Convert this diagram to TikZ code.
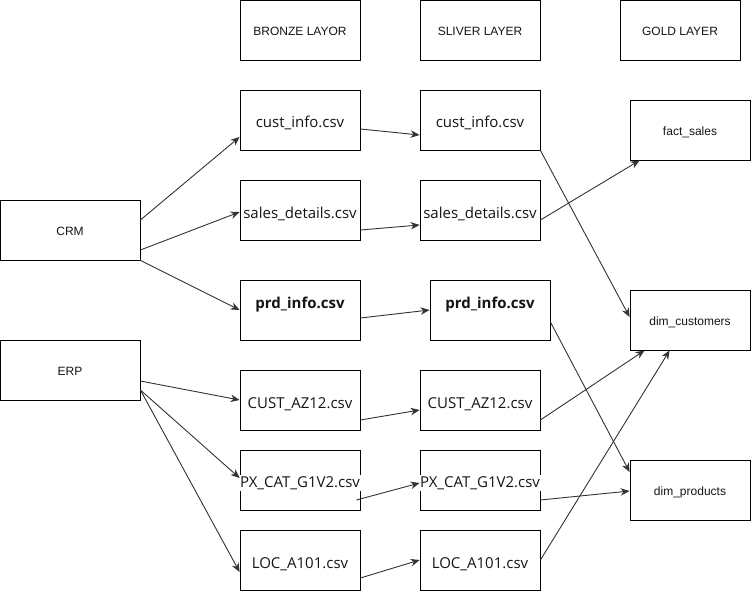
\documentclass[tikz,border=0pt]{standalone}
\usepackage{fontspec}
\setmainfont{Liberation Sans}
\newfontfamily\csvfont{Open Sans}
\usetikzlibrary{arrows.meta}
\definecolor{layerLine}{RGB}{51,51,51}
\definecolor{layerText}{RGB}{20,20,20}

\begin{document}
\begin{tikzpicture}[
  x=1pt, y=-1pt,
  layer/.style={
    draw=black,
    line width=0.8pt,
    minimum width=120pt,
    minimum height=60pt,
    inner sep=0pt,
    align=center,
    text=layerText,
    text height=11pt,
    text depth=0pt,
    font=\fontsize{12}{14}\selectfont
  },
  csv/.style={layer,font=\csvfont\fontsize{15}{18}\selectfont,
    text height=19pt,text depth=3pt},
  csvtop/.style={csv,font=\csvfont\bfseries\fontsize{15}{18}\selectfont,
    text height=11pt,text depth=14pt},
  csvwide/.style={layer,label={[fill=white,inner sep=1pt,text=layerText,
    yshift=-3pt,font=\csvfont\fontsize{15}{18}\selectfont]center:#1}},
  arrow/.style={-{Stealth[length=9pt,width=7.5pt]},line width=0.9pt,layerLine}
]
  \useasboundingbox (0,0) rectangle (751,591);

  % layer headers
  \node[layer] (bronze) at (300,30) {BRONZE LAYOR};
  \node[layer] (silver) at (480,30) {SLIVER LAYER};
  \node[layer] (gold) at (680,30) {GOLD LAYER};

  % sources
  \node[layer,minimum width=140pt] (crm) at (70,230) {CRM};
  \node[layer,minimum width=140pt] (erp) at (70,370) {ERP};

  % bronze layer
  \node[csv] (bcust) at (300,120) {cust\_info.csv};
  \node[csv] (bsales) at (300,210) {sales\_details.csv};
  \node[csvtop] (bprd) at (300,310) {prd\_info.csv};
  \node[csv] (bcustaz) at (300,400) {CUST\_AZ12.csv};
  \node[csvwide={PX\_CAT\_G1V2.csv}] (bpx) at (300,480) {};
  \node[csv] (bloc) at (300,560) {LOC\_A101.csv};

  % silver layer
  \node[csv] (scust) at (480,120) {cust\_info.csv};
  \node[csv] (ssales) at (480,210) {sales\_details.csv};
  \node[csvtop] (sprd) at (490,310) {prd\_info.csv};
  \node[csv] (scustaz) at (480,400) {CUST\_AZ12.csv};
  \node[csvwide={PX\_CAT\_G1V2.csv}] (spx) at (480,480) {};
  \node[csv] (sloc) at (480,560) {LOC\_A101.csv};

  % gold layer
  \node[layer] (fact) at (690,130) {fact\_sales};
  \node[layer] (dimcust) at (690,320) {dim\_customers};
  \node[layer] (dimprod) at (690,490) {dim\_products};

  % sources to bronze
  \draw[arrow] ([yshift=10pt]crm.east) -- ([yshift=-17pt]bcust.west);
  \draw[arrow] ([yshift=-20pt]crm.east) -- ([yshift=-2pt]bsales.west);
  \draw[arrow] (crm.south east) -- (bprd.west);
  \draw[arrow] ([yshift=-11pt]erp.east) -- (bcustaz.west);
  \draw[arrow] ([yshift=-20pt]erp.east) -- ([yshift=2pt]bpx.west);
  \draw[arrow] ([yshift=-20pt]erp.east) -- ([yshift=-12pt]bloc.west);

  % bronze to silver
  \draw[arrow] ([yshift=-9pt]bcust.east) -- ([yshift=-15pt]scust.west);
  \draw[arrow] ([yshift=-20pt]bsales.east) -- ([yshift=-15pt]ssales.west);
  \draw[arrow] ([yshift=-8pt]bprd.east) -- (sprd.west);
  \draw[arrow] ([yshift=-20pt]bcustaz.east) -- ([yshift=-10pt]scustaz.west);
  \draw[arrow] ([xshift=-4pt,yshift=-20pt]bpx.east) -- ([yshift=-3pt]spx.west);
  \draw[arrow] ([yshift=-18pt]bloc.east) -- (sloc.west);

  % silver to gold
  \draw[arrow] (scust.south east) -- ([yshift=3pt]dimcust.west);
  \draw[arrow] ([yshift=-10pt]ssales.east) -- ([xshift=10pt]fact.south west);
  \draw[arrow] ([yshift=-12pt]sprd.east) -- ([yshift=18pt]dimprod.west);
  \draw[arrow] ([yshift=-20pt]scustaz.east) -- ([xshift=15pt]dimcust.south west);
  \draw[arrow] ([yshift=-20pt]spx.east) -- ([yshift=-1pt]dimprod.west);
  \draw[arrow] (sloc.east) -- ([xshift=40pt]dimcust.south west);
\end{tikzpicture}
\end{document}
